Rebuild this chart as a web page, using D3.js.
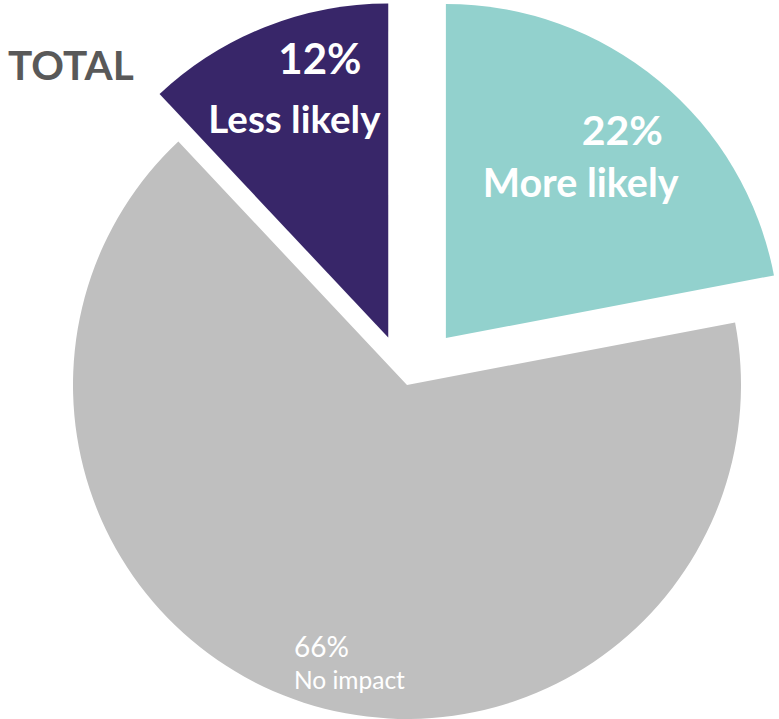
<!DOCTYPE html>
<html>
<head>
<meta charset="utf-8">
<script src="https://cdn.jsdelivr.net/npm/d3@7"></script>
<style>
  html, body { margin: 0; padding: 0; background: #fff; }
  svg { display: block; font-family: Lato, "Open Sans", sans-serif; }
</style>
</head>
<body>
<svg id="pieChart"></svg>
<script>
  const categories = ["More likely", "No impact", "Less likely"];
  const values = [22, 66, 12];
  const title = "TOTAL";

  const WIDTH = 779;
  const HEIGHT = 719;
  const CENTER = {x: 407, y: 385};
  const RADIUS = 334;

  const color = d3.scaleOrdinal()
    .domain(categories)
    .range(["#92d1cd", "#bfbfbf", "#382669"]);

  // how far each slice is pulled out of the pie
  const explode = {"More likely": 61, "No impact": 0, "Less likely": 51};

  // label anchor along the slice bisector, then per-line nudges
  const labelStyle = {
    "More likely": {r: 235, bold: true, lines: [
      {size: 41, dx: -14, dy: -12, pct: true},
      {size: 39.5, dx: -113, dy: 40}
    ]},
    "Less likely": {r: 255, bold: true, lines: [
      {size: 42, dx: -16, dy: -27, pct: true},
      {size: 38.5, dx: -86, dy: 32}
    ]},
    "No impact": {r: 280, bold: false, lines: [
      {size: 28, dx: -26.5, dy: 6, pct: true},
      {size: 24.5, dx: -26.5, dy: 38}
    ]}
  };

  const data = categories.map((c, i) => ({category: c, value: values[i]}));

  const svg = d3.select("#pieChart")
    .attr("width", WIDTH)
    .attr("height", HEIGHT);

  const pie = d3.pie().sort(null).value(d => d.value);
  const arc = d3.arc().innerRadius(0).outerRadius(RADIUS);

  const chart = svg.append("g")
    .attr("transform", `translate(${CENTER.x}, ${CENTER.y})`);

  const slices = chart.selectAll(".slice")
    .data(pie(data))
    .enter().append("g")
    .attr("class", "slice")
    .attr("transform", d => {
      const mid = (d.startAngle + d.endAngle) / 2;
      const off = explode[d.data.category];
      return `translate(${Math.sin(mid) * off}, ${-Math.cos(mid) * off})`;
    });

  slices.append("path")
    .attr("d", arc)
    .attr("fill", d => color(d.data.category));

  slices.each(function(d) {
    const st = labelStyle[d.data.category];
    const mid = (d.startAngle + d.endAngle) / 2;
    const ax = Math.sin(mid) * st.r;
    const ay = -Math.cos(mid) * st.r;
    st.lines.forEach(line => {
      d3.select(this).append("text")
        .attr("x", ax + line.dx)
        .attr("y", ay + line.dy)
        .attr("fill", "#fff")
        .attr("font-size", line.size)
        .attr("font-weight", st.bold ? "bold" : "normal")
        .text(line.pct ? d.data.value + "%" : d.data.category);
    });
  });

  svg.append("text")
    .attr("x", 8)
    .attr("y", 80)
    .attr("fill", "#595959")
    .attr("font-size", 40.5)
    .attr("font-weight", "bold")
    .text(title);
</script>
</body>
</html>
